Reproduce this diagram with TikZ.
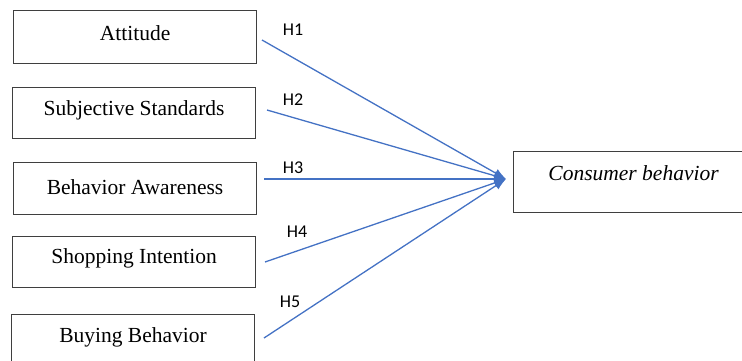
\documentclass[tikz,border=0pt]{standalone}
\usepackage{fontspec}
\setmainfont{Liberation Serif}
\newfontfamily\hypfont{Carlito}
\usetikzlibrary{arrows.meta}
\definecolor{lineblue}{HTML}{4472C4}
\definecolor{boxgray}{HTML}{3F3F3F}
\begin{document}
\begin{tikzpicture}[x=1pt,y=-1pt,
		box/.style={draw=boxgray,line width=1.1pt,anchor=north west,minimum width=243pt,inner sep=0pt,font=\fontsize{21.5}{26}\selectfont},
		hyp/.style={inner sep=0pt,font=\hypfont\fontsize{18}{22}\selectfont},
		link/.style={lineblue,line width=1.3pt,-{Latex[length=12pt,width=9pt]}}]
		\useasboundingbox (0,0) rectangle (742,360);
		\clip (0,0) rectangle (742,360);
		% factors
		\node[box,text height=30pt,text depth=23pt] (att) at (13,10) {Attitude};
		\node[box,text height=28pt,text depth=23pt] (subj) at (12,87) {Subjective Standards};
		\node[box,text height=32pt,text depth=20pt] (aware) at (13,162) {Behavior Awareness};
		\node[box,text height=27pt,text depth=24pt] (shop) at (12,236) {Shopping Intention};
		\node[box,text height=28pt,text depth=26pt] (buy) at (11,314) {Buying Behavior};
		\node[box,minimum width=240pt,text height=29pt,text depth=32pt] (cons) at (513,151) {\itshape Consumer behavior};
		% paths
		\coordinate (s1) at (262,40);
		\coordinate (s2) at (267,110);
		\coordinate (s3) at (264,179);
		\coordinate (s4) at (265,262);
		\coordinate (s5) at (264,338);
		\coordinate (tip) at (506,179);
		\foreach \s in {s1,s2,s3,s4,s5}
			\draw[link] (\s) -- (tip);
		\node[hyp] (h1) at (293,30) {H1};
		\node[hyp] (h2) at (293,100) {H2};
		\node[hyp] (h3) at (293,168) {H3};
		\node[hyp] (h4) at (297,232) {H4};
		\node[hyp] (h5) at (290,302) {H5};
		\end{tikzpicture}
\end{document}
